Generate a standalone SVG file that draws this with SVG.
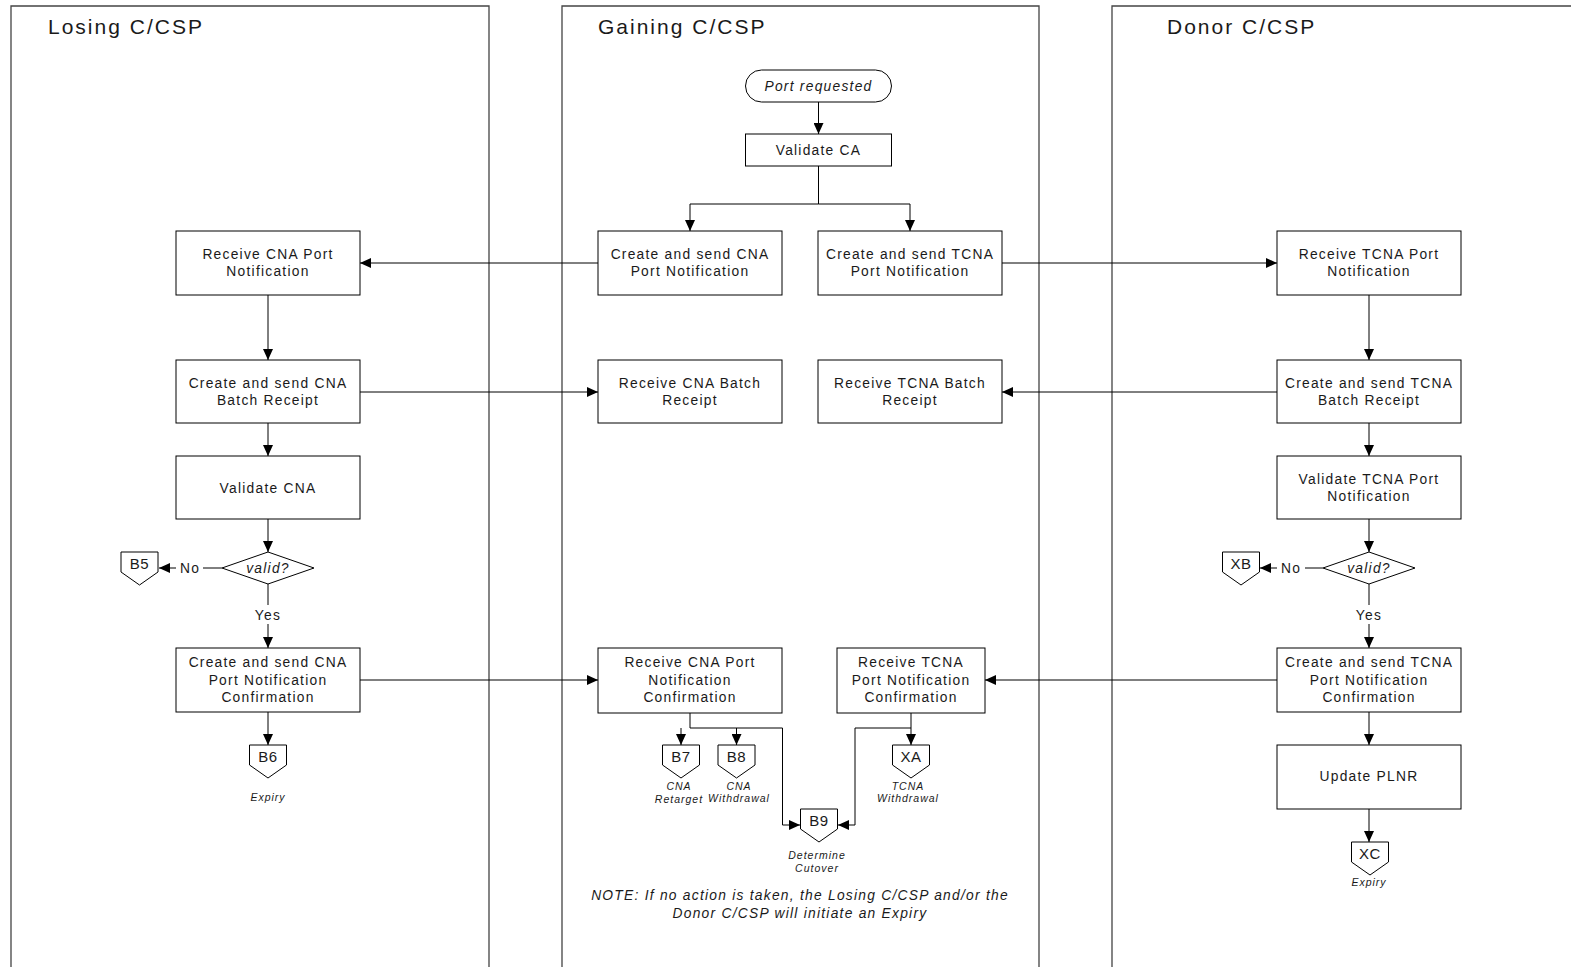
<svg xmlns="http://www.w3.org/2000/svg" width="1571" height="967" viewBox="0 0 1571 967">
  <style>
    text { font-family: "Liberation Sans", Arial, sans-serif; fill: #1a1a1a; }
    .title { font-size: 21px; letter-spacing: 2px; }
    .lbl { font-size: 13.8px; letter-spacing: 1.25px; text-anchor: middle; }
    .it { font-style: italic; }
    .ref { font-size: 15px; letter-spacing: 0.6px; text-anchor: middle; }
    .small { font-size: 10.5px; letter-spacing: 1px; font-style: italic; text-anchor: middle; }
    .lane { fill: none; stroke: #444; stroke-width: 1.3; }
    .box { fill: #fff; stroke: #000; stroke-width: 1; }
    .conn { fill: none; stroke: #000; stroke-width: 1; }
    .arr { marker-end: url(#ah); }
  </style>
  <defs>
    <marker id="ah" markerUnits="userSpaceOnUse" markerWidth="11" markerHeight="10" refX="11" refY="5" orient="auto">
      <path d="M0,0 L11,5 L0,10 Z" fill="#000"/>
    </marker>
    <!-- off-page reference shape, anchored at top centre -->
    <path id="offpage" d="M-18.5,0 H18.5 V20 L0,33 L-18.5,20 Z" fill="#fff" stroke="#000" stroke-width="1"/>
  </defs>
  <rect width="1571" height="967" fill="#fff"/>

  <!-- swimlanes -->
  <g id="lanes">
    <path class="lane" d="M11,967 V6 H489 V967"/>
    <path class="lane" d="M562,967 V6 H1039 V967"/>
    <path class="lane" d="M1112,967 V6 H1571"/>
    <text class="title" x="48" y="34">Losing C/CSP</text>
    <text class="title" x="598" y="34">Gaining C/CSP</text>
    <text class="title" x="1167" y="34">Donor C/CSP</text>
  </g>

  <!-- connectors -->
  <g id="connectors">
    <path class="conn arr" d="M818.5,102 V134"/>
    <path class="conn arr" d="M818.5,166 V204 H690 V231"/>
    <path class="conn arr" d="M818.5,204 H910 V231"/>
    <path class="conn arr" d="M598,263 H360"/>
    <path class="conn arr" d="M1002,263 H1277"/>
    <path class="conn arr" d="M360,392 H598"/>
    <path class="conn arr" d="M1277,392 H1002"/>
    <path class="conn arr" d="M360,680 H598"/>
    <path class="conn arr" d="M1277,680 H985"/>

    <!-- losing lane -->
    <path class="conn arr" d="M268,295 V360"/>
    <path class="conn arr" d="M268,423 V456"/>
    <path class="conn arr" d="M268,519 V552"/>
    <path class="conn" d="M268,584 V605"/>
    <path class="conn arr" d="M268,624 V648"/>
    <path class="conn arr" d="M268,712 V745"/>
    <path class="conn" d="M222,568 H203"/>
    <path class="conn arr" d="M176,568 H159"/>

    <!-- donor lane -->
    <path class="conn arr" d="M1369,295 V360"/>
    <path class="conn arr" d="M1369,423 V456"/>
    <path class="conn arr" d="M1369,519 V552"/>
    <path class="conn" d="M1369,584 V605"/>
    <path class="conn arr" d="M1369,624 V648"/>
    <path class="conn arr" d="M1369,712 V745"/>
    <path class="conn arr" d="M1369,809 V842"/>
    <path class="conn" d="M1323,568 H1305"/>
    <path class="conn arr" d="M1277,568 H1260"/>

    <!-- gaining lane outcomes -->
    <path class="conn" d="M690,713 V728 H782.5 V825"/>
    <path class="conn arr" d="M782.5,825 H800"/>
    <path class="conn arr" d="M681,728 V745"/>
    <path class="conn arr" d="M736.5,728 V745"/>
    <path class="conn arr" d="M911,713 V745"/>
    <path class="conn arr" d="M911,728 H855 V825 H838"/>
  </g>

  <!-- gaining lane -->
  <g id="port-requested">
    <rect class="box" x="745.5" y="70" width="146" height="32" rx="16" ry="16"/>
    <text class="lbl it" x="818.5" y="91">Port requested</text>
  </g>
  <g id="validate-ca">
    <rect class="box" x="745.5" y="134" width="146" height="32"/>
    <text class="lbl" x="818.5" y="155">Validate CA</text>
  </g>
  <g id="create-cna">
    <rect class="box" x="598" y="231" width="184" height="64"/>
    <text class="lbl" x="690" y="259">Create and send CNA</text>
    <text class="lbl" x="690" y="276">Port Notification</text>
  </g>
  <g id="create-tcna">
    <rect class="box" x="818" y="231" width="184" height="64"/>
    <text class="lbl" x="910" y="259">Create and send TCNA</text>
    <text class="lbl" x="910" y="276">Port Notification</text>
  </g>
  <g id="receive-cna-batch">
    <rect class="box" x="598" y="360" width="184" height="63"/>
    <text class="lbl" x="690" y="388">Receive CNA Batch</text>
    <text class="lbl" x="690" y="405">Receipt</text>
  </g>
  <g id="receive-tcna-batch">
    <rect class="box" x="818" y="360" width="184" height="63"/>
    <text class="lbl" x="910" y="388">Receive TCNA Batch</text>
    <text class="lbl" x="910" y="405">Receipt</text>
  </g>
  <g id="receive-cna-confirm">
    <rect class="box" x="598" y="648" width="184" height="65"/>
    <text class="lbl" x="690" y="667">Receive CNA Port</text>
    <text class="lbl" x="690" y="685">Notification</text>
    <text class="lbl" x="690" y="702">Confirmation</text>
  </g>
  <g id="receive-tcna-confirm">
    <rect class="box" x="837" y="648" width="148" height="65"/>
    <text class="lbl" x="911" y="667">Receive TCNA</text>
    <text class="lbl" x="911" y="685">Port Notification</text>
    <text class="lbl" x="911" y="702">Confirmation</text>
  </g>
  <g id="b7">
    <use href="#offpage" x="681" y="745"/>
    <text class="ref" x="681" y="762">B7</text>
    <text class="small" x="679" y="790">CNA</text>
    <text class="small" x="679" y="803">Retarget</text>
  </g>
  <g id="b8">
    <use href="#offpage" x="736.5" y="745"/>
    <text class="ref" x="736.5" y="762">B8</text>
    <text class="small" x="739" y="790">CNA</text>
    <text class="small" x="739" y="802">Withdrawal</text>
  </g>
  <g id="b9">
    <use href="#offpage" x="819" y="809"/>
    <text class="ref" x="819" y="826">B9</text>
    <text class="small" x="817" y="859">Determine</text>
    <text class="small" x="817" y="872">Cutover</text>
  </g>
  <g id="xa">
    <use href="#offpage" x="911" y="745"/>
    <text class="ref" x="911" y="762">XA</text>
    <text class="small" x="908" y="790">TCNA</text>
    <text class="small" x="908" y="802">Withdrawal</text>
  </g>
  <g id="note">
    <text class="lbl it" x="800" y="900">NOTE: If no action is taken, the Losing C/CSP and/or the</text>
    <text class="lbl it" x="800" y="918">Donor C/CSP will initiate an Expiry</text>
  </g>

  <!-- losing lane -->
  <g id="receive-cna">
    <rect class="box" x="176" y="231" width="184" height="64"/>
    <text class="lbl" x="268" y="259">Receive CNA Port</text>
    <text class="lbl" x="268" y="276">Notification</text>
  </g>
  <g id="create-cna-batch">
    <rect class="box" x="176" y="360" width="184" height="63"/>
    <text class="lbl" x="268" y="388">Create and send CNA</text>
    <text class="lbl" x="268" y="405">Batch Receipt</text>
  </g>
  <g id="validate-cna">
    <rect class="box" x="176" y="456" width="184" height="63"/>
    <text class="lbl" x="268" y="493">Validate CNA</text>
  </g>
  <g id="valid-cna">
    <path class="box" d="M222,568 L268,552 L314,568 L268,584 Z"/>
    <text class="lbl it" x="268" y="573">valid?</text>
  </g>
  <text class="lbl" x="190" y="573">No</text>
  <text class="lbl" x="268" y="620">Yes</text>
  <g id="b5">
    <use href="#offpage" x="139.5" y="552"/>
    <text class="ref" x="139.5" y="569">B5</text>
  </g>
  <g id="create-cna-confirm">
    <rect class="box" x="176" y="648" width="184" height="64"/>
    <text class="lbl" x="268" y="667">Create and send CNA</text>
    <text class="lbl" x="268" y="685">Port Notification</text>
    <text class="lbl" x="268" y="702">Confirmation</text>
  </g>
  <g id="b6">
    <use href="#offpage" x="268" y="745"/>
    <text class="ref" x="268" y="762">B6</text>
    <text class="small" x="268" y="801">Expiry</text>
  </g>

  <!-- donor lane -->
  <g id="receive-tcna">
    <rect class="box" x="1277" y="231" width="184" height="64"/>
    <text class="lbl" x="1369" y="259">Receive TCNA Port</text>
    <text class="lbl" x="1369" y="276">Notification</text>
  </g>
  <g id="create-tcna-batch">
    <rect class="box" x="1277" y="360" width="184" height="63"/>
    <text class="lbl" x="1369" y="388">Create and send TCNA</text>
    <text class="lbl" x="1369" y="405">Batch Receipt</text>
  </g>
  <g id="validate-tcna">
    <rect class="box" x="1277" y="456" width="184" height="63"/>
    <text class="lbl" x="1369" y="484">Validate TCNA Port</text>
    <text class="lbl" x="1369" y="501">Notification</text>
  </g>
  <g id="valid-tcna">
    <path class="box" d="M1323,568 L1369,552 L1415,568 L1369,584 Z"/>
    <text class="lbl it" x="1369" y="573">valid?</text>
  </g>
  <text class="lbl" x="1291" y="573">No</text>
  <text class="lbl" x="1369" y="620">Yes</text>
  <g id="xb">
    <use href="#offpage" x="1241" y="552"/>
    <text class="ref" x="1241" y="569">XB</text>
  </g>
  <g id="create-tcna-confirm">
    <rect class="box" x="1277" y="648" width="184" height="64"/>
    <text class="lbl" x="1369" y="667">Create and send TCNA</text>
    <text class="lbl" x="1369" y="685">Port Notification</text>
    <text class="lbl" x="1369" y="702">Confirmation</text>
  </g>
  <g id="update-plnr">
    <rect class="box" x="1277" y="745" width="184" height="64"/>
    <text class="lbl" x="1369" y="781">Update PLNR</text>
  </g>
  <g id="xc">
    <use href="#offpage" x="1370" y="842"/>
    <text class="ref" x="1370" y="859">XC</text>
    <text class="small" x="1369" y="886">Expiry</text>
  </g>
</svg>
